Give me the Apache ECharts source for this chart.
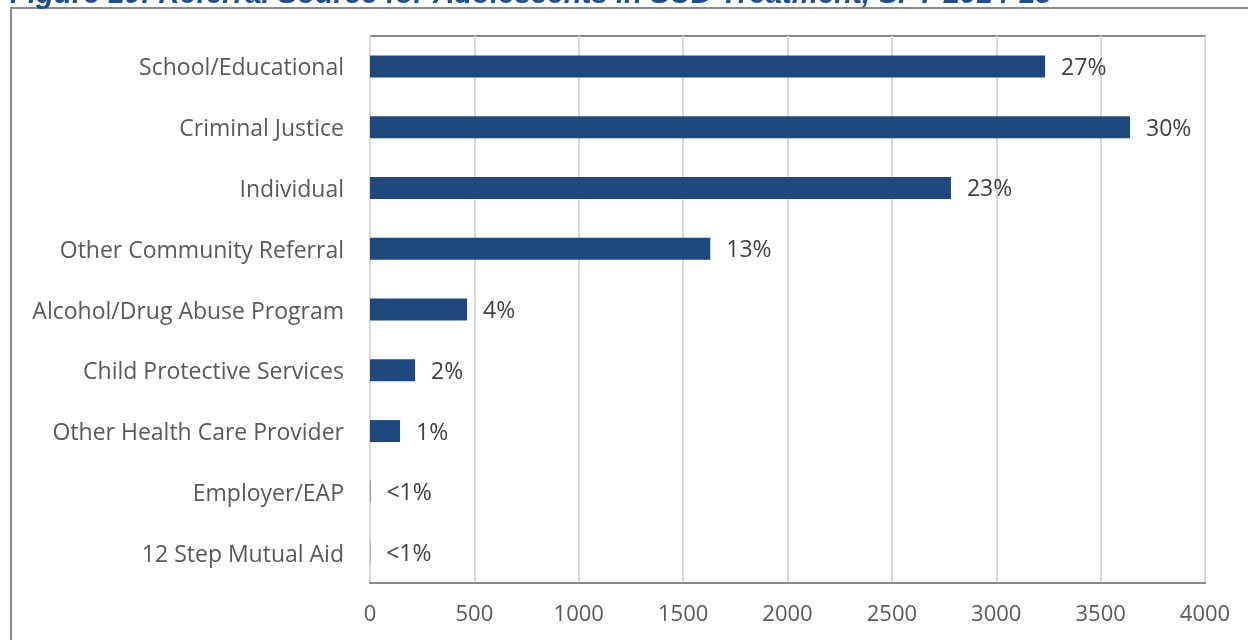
<!DOCTYPE html>
<html>
<head>
<meta charset="utf-8">
<title>Referral Source for Adolescents in SUD Treatment</title>
<script src="https://cdn.jsdelivr.net/npm/echarts@6/dist/echarts.min.js"></script>
<style>
  html, body { margin: 0; padding: 0; background: #ffffff; }
  #chart { width: 1248px; height: 640px; }
</style>
</head>
<body>
<div id="chart"></div>
<script>
// Referral sources, top to bottom
const categories = [
  'School/Educational',
  'Criminal Justice',
  'Individual',
  'Other Community Referral',
  'Alcohol/Drug Abuse Program',
  'Child Protective Services',
  'Other Health Care Provider',
  'Employer/EAP',
  '12 Step Mutual Aid'
];
// Number of adolescent admissions per referral source
const admissions = [3234, 3641, 2783, 1630, 465, 216, 144, 2, 1];
const xTicks = [0, 500, 1000, 1500, 2000, 2500, 3000, 3500, 4000];

const total = admissions.reduce((a, b) => a + b, 0);
function pctLabel(v) {
  const p = v / total * 100;
  return p < 0.5 ? '<1%' : Math.round(p) + '%';
}

const FONT = '"Open Sans", "Noto Sans", sans-serif';
const chart = echarts.init(document.getElementById('chart'), null, { renderer: 'canvas' });

chart.setOption({
  animation: false,
  backgroundColor: '#ffffff',
  title: {
    text: 'Figure 10: Referral Source for Adolescents in SUD Treatment, SFY 2014-15',
    left: 10,
    top: -20,
    padding: 0,
    textStyle: {
      fontFamily: '"Liberation Sans", Arial, sans-serif',
      fontWeight: 'bold',
      fontStyle: 'italic',
      fontSize: 29.4,
      color: '#1f4e8c'
    }
  },
  graphic: [{
    type: 'rect',
    z: -1,
    shape: { x: 11, y: 8, width: 1400, height: 800 },
    style: { fill: 'none', stroke: '#8a8a8a', lineWidth: 2 }
  }],
  grid: {
    left: 370, right: 43, top: 36, bottom: 57,
    show: true,
    borderColor: '#8a8a8a',
    borderWidth: 2,
    containLabel: false
  },
  xAxis: {
    type: 'value',
    min: xTicks[0],
    max: xTicks[xTicks.length - 1],
    interval: 500,
    axisLine: { show: true, lineStyle: { color: '#8a8a8a', width: 2 } },
    axisTick: { show: false },
    splitLine: { show: true, lineStyle: { color: '#d9d9d9', width: 2 } },
    axisLabel: {
      margin: 21,
      fontFamily: FONT,
      fontSize: 22,
      color: '#595959',
      formatter: v => String(v)
    }
  },
  yAxis: {
    type: 'category',
    data: categories,
    inverse: true,
    axisLine: { show: true, lineStyle: { color: '#d9d9d9', width: 2 } },
    axisTick: { show: false },
    splitLine: { show: false },
    axisLabel: {
      margin: 26,
      formatter: v => '{c|' + v + '}',
      rich: {
        c: {
          fontFamily: FONT,
          fontSize: 23,
          color: '#595959',
          padding: [5, 0, 0, 0]
        }
      }
    }
  },
  series: [{
    type: 'bar',
    data: admissions,
    barWidth: 22,
    itemStyle: { color: '#1f497d' },
    label: {
      show: true,
      position: 'right',
      distance: 16,
      offset: [0, 2],
      fontFamily: FONT,
      fontSize: 23,
      color: '#404040',
      formatter: p => pctLabel(p.value)
    }
  }]
});
</script>
</body>
</html>
